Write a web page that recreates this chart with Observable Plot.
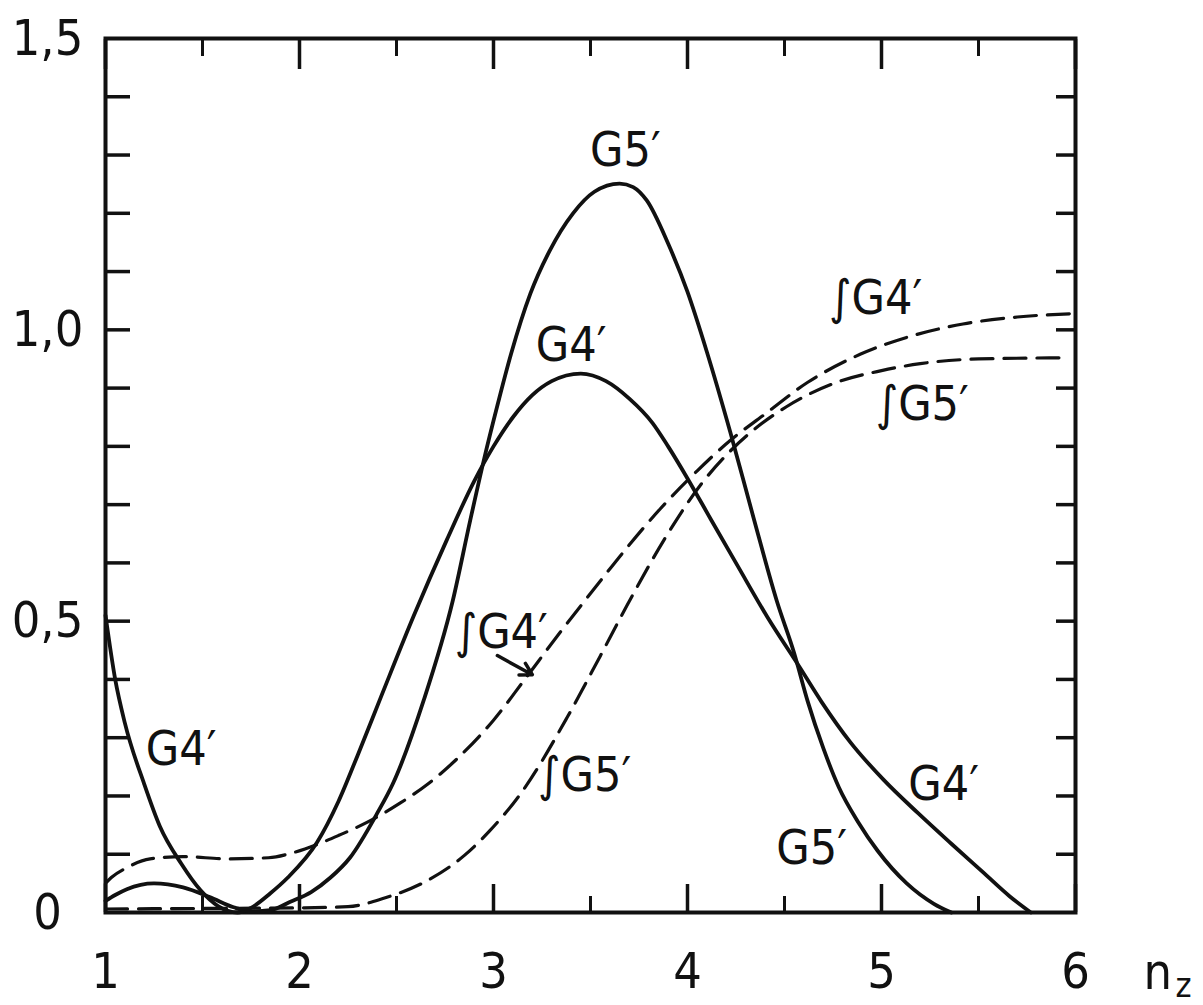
<!DOCTYPE html>
<html><head><meta charset="utf-8">
<script src="https://cdn.jsdelivr.net/npm/d3@7"></script>
<script src="https://cdn.jsdelivr.net/npm/@observablehq/plot@0.6"></script>
<style>body{margin:0;background:#fff}</style>
</head><body><div id="chart"></div>
<script>
// G4' (solid)
const g4X = [1.0,1.05,1.1,1.2,1.28,1.39,1.49,1.58,1.68,1.75,1.85,1.94,2.09,2.2,2.3,2.42,2.59,2.76,2.9,3.0,3.1,3.2,3.3,3.45,3.58,3.7,3.82,3.9,4.0,4.12,4.26,4.41,4.58,4.69,4.84,5.01,5.19,5.36,5.53,5.66,5.77];
const g4Y = [0.51,0.40,0.325,0.22,0.148,0.084,0.038,0.011,0.0,0.008,0.033,0.06,0.12,0.19,0.27,0.37,0.51,0.64,0.74,0.80,0.85,0.888,0.912,0.925,0.912,0.882,0.84,0.80,0.745,0.675,0.594,0.508,0.42,0.362,0.292,0.228,0.17,0.118,0.067,0.028,0.0];
// G5' (solid)
const g5X = [1.0,1.05,1.11,1.25,1.4,1.54,1.66,1.75,1.85,1.95,2.06,2.16,2.26,2.4,2.48,2.64,2.79,2.88,2.95,3.02,3.09,3.19,3.29,3.41,3.52,3.65,3.72,3.79,3.9,4.0,4.1,4.22,4.34,4.46,4.55,4.62,4.7,4.78,4.88,4.98,5.13,5.27,5.36];
const g5Y = [0.02,0.03,0.04,0.05,0.043,0.026,0.009,0.002,0.004,0.018,0.035,0.06,0.094,0.17,0.22,0.364,0.535,0.673,0.776,0.87,0.958,1.062,1.136,1.2,1.237,1.251,1.245,1.222,1.148,1.065,0.962,0.825,0.678,0.535,0.445,0.362,0.282,0.215,0.155,0.106,0.05,0.015,0.0];
// ∫G4' (dashed)
const ig4X = [1.0,1.03,1.11,1.23,1.4,1.63,1.84,1.97,2.1,2.2,2.35,2.52,2.66,2.8,3.0,3.15,3.33,3.52,3.69,3.86,4.05,4.22,4.39,4.62,4.89,5.16,5.42,5.7,6.0];
const ig4Y = [0.05,0.06,0.077,0.092,0.096,0.092,0.094,0.103,0.118,0.132,0.155,0.188,0.22,0.26,0.33,0.395,0.475,0.556,0.627,0.693,0.758,0.81,0.853,0.91,0.958,0.99,1.01,1.022,1.028];
// ∫G5' (dashed)
const ig5X = [1.0,1.5,2.0,2.25,2.43,2.66,2.85,2.98,3.14,3.38,3.55,3.69,3.88,4.07,4.2,4.34,4.51,4.77,5.0,5.2,5.5,5.95];
const ig5Y = [0.006,0.007,0.008,0.01,0.024,0.055,0.098,0.14,0.204,0.335,0.44,0.528,0.64,0.735,0.785,0.828,0.868,0.91,0.93,0.942,0.95,0.952];

// curve labels
const labelText = ["G5′","G4′","G4′","∫G4′","∫G5′","∫G4′","∫G5′","G4′","G5′"];
const labelX = [3.68,3.40,1.39,4.97,5.21,3.04,3.47,5.32,4.64];
const labelY = [1.308,0.973,0.28,1.053,0.872,0.48,0.235,0.22,0.11];

// tick values
const xMajor = [1,2,3,4,5,6];
const xMinor = [1.5,2.5,3.5,4.5,5.5];
const yTicks = [0.1,0.2,0.3,0.4,0.5,0.6,0.7,0.8,0.9,1.0,1.1,1.2,1.3,1.4];
const yLabels = [0,0.5,1.0,1.5];
const yLabelText = ["0","0,5","1,0","1,5"];

const toRows = (xs, ys) => xs.map((x, i) => ({x, y: ys[i]}));
const ink = "#111";
const font = "'DejaVu Sans Condensed', 'DejaVu Sans', sans-serif";

const chart = Plot.plot({
  width: 1203, height: 1005,
  marginLeft: 105, marginRight: 128, marginTop: 38, marginBottom: 93,
  style: {fontFamily: font, background: "#fff", color: ink},
  x: {domain: [1, 6]},
  y: {domain: [0, 1.5]},
  marks: [
    // inward ticks
    Plot.axisX(xMajor, {anchor: "bottom", tickSize: -28, strokeWidth: 3.5, fill: "none", label: null}),
    Plot.axisX(xMinor, {anchor: "bottom", tickSize: -16, strokeWidth: 3, fill: "none", label: null}),
    Plot.axisX(xMajor, {anchor: "top", tickSize: -30, strokeWidth: 3.5, fill: "none", label: null}),
    Plot.axisX(xMinor, {anchor: "top", tickSize: -17, strokeWidth: 3, fill: "none", label: null}),
    Plot.axisY(yTicks, {anchor: "left", tickSize: -25, strokeWidth: 3.5, fill: "none", label: null}),
    Plot.axisY(yTicks, {anchor: "right", tickSize: -20, strokeWidth: 3.5, fill: "none", label: null}),
    // tick labels
    Plot.axisX(xMajor, {anchor: "bottom", tickSize: 0, tickPadding: 40, fontSize: 50, tickFormat: d => String(d), label: null}),
    Plot.axisY(yLabels, {anchor: "left", tickSize: 0, tickPadding: 58, fontSize: 50, textAnchor: "middle", tickFormat: (d, i) => yLabelText[i], label: null}),
    Plot.frame({stroke: ink, strokeWidth: 4}),
    // curves
    Plot.line(toRows(g4X, g4Y), {x: "x", y: "y", curve: "monotone-x", stroke: ink, strokeWidth: 3.8}),
    Plot.line(toRows(g5X, g5Y), {x: "x", y: "y", curve: "monotone-x", stroke: ink, strokeWidth: 3.8}),
    Plot.line(toRows(ig4X, ig4Y), {x: "x", y: "y", curve: "monotone-x", stroke: ink, strokeWidth: 3.2, strokeDasharray: "22,11"}),
    Plot.line(toRows(ig5X, ig5Y), {x: "x", y: "y", curve: "monotone-x", stroke: ink, strokeWidth: 3.2, strokeDasharray: "22,11"}),
    // arrow from ∫G4' label to its curve
    Plot.arrow([{x1: 3.02, y1: 0.441, x2: 3.2, y2: 0.408}], {x1: "x1", y1: "y1", x2: "x2", y2: "y2", stroke: ink, strokeWidth: 3.5, headLength: 12}),
    // labels
    Plot.text(labelText, {x: (d, i) => labelX[i], y: (d, i) => labelY[i], text: d => d, fontSize: 48, fill: ink, textAnchor: "middle", lineAnchor: "middle"}),
    // axis title n_z
    Plot.text(["n"], {frameAnchor: "bottom-right", text: d => d, dx: 68, dy: 76, textAnchor: "start", lineAnchor: "bottom", fontSize: 50, fill: ink}),
    Plot.text(["z"], {frameAnchor: "bottom-right", text: d => d, dx: 100, dy: 84, textAnchor: "start", lineAnchor: "bottom", fontSize: 34, fill: ink})
  ]
});
document.getElementById("chart").appendChild(chart);
</script>
</body></html>
